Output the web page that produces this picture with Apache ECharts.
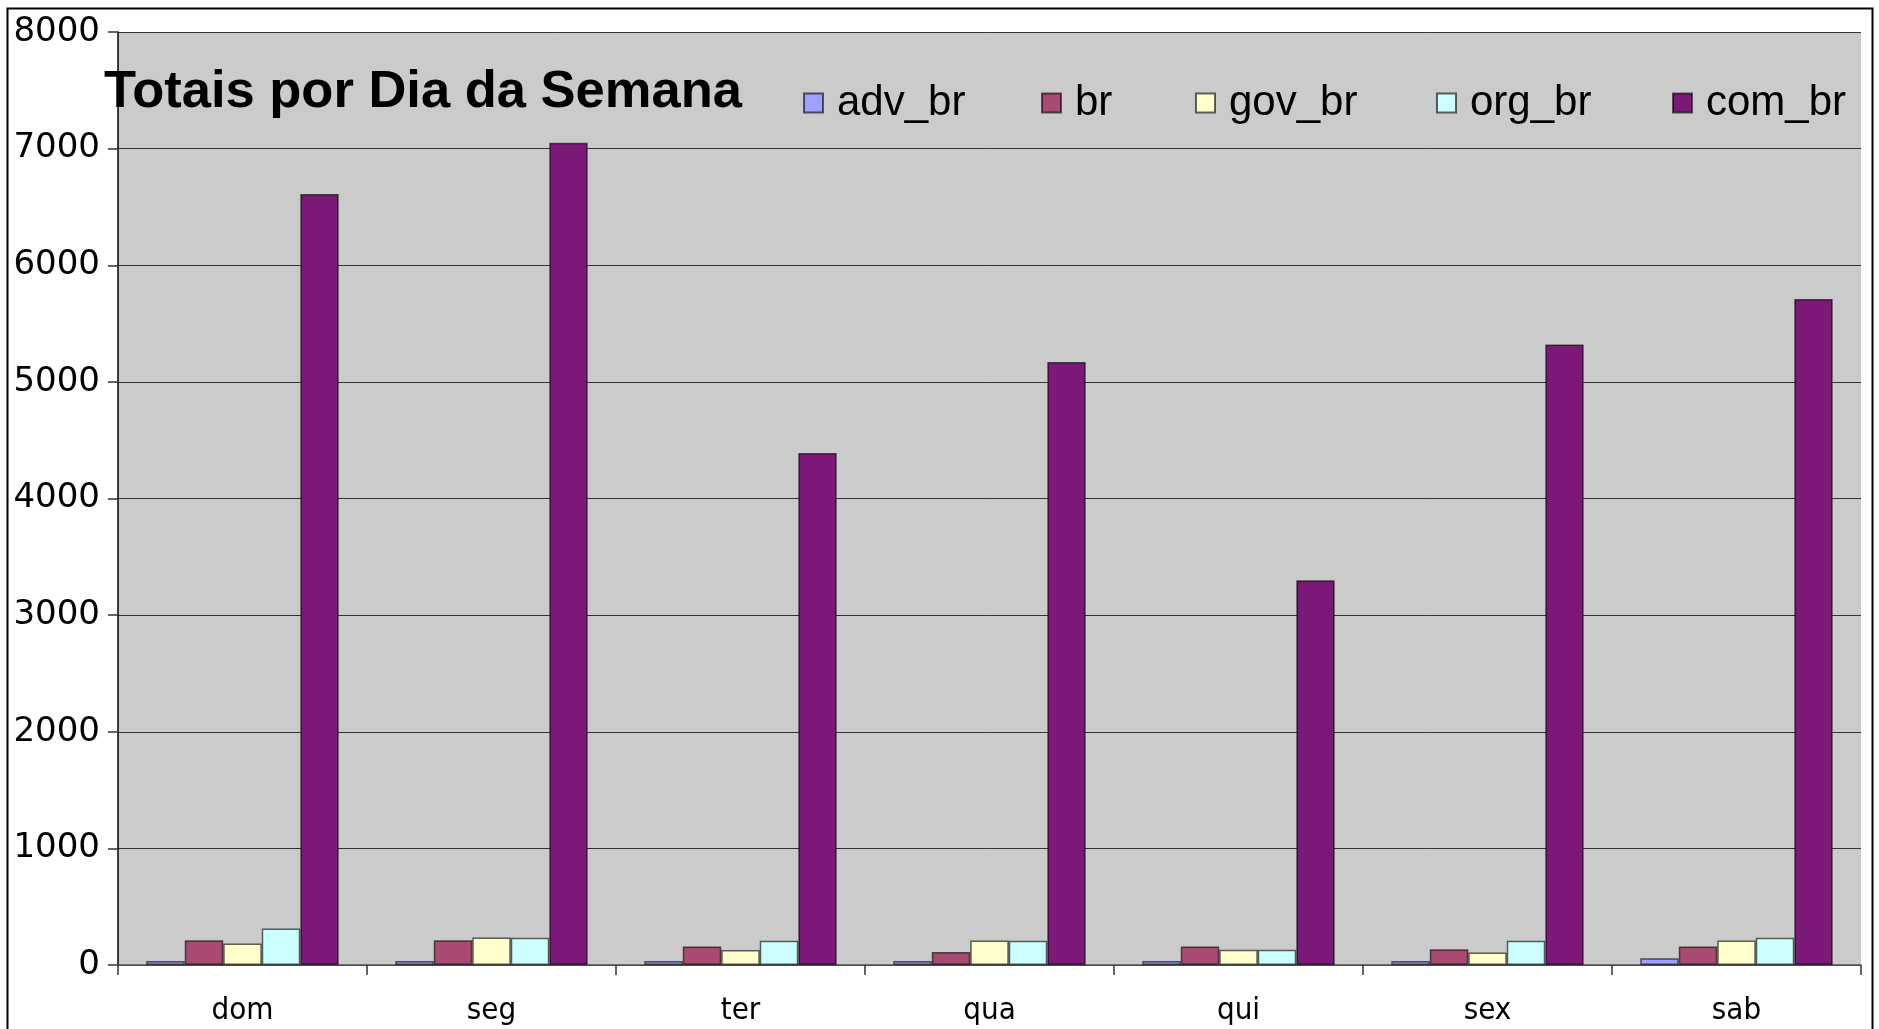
<!DOCTYPE html>
<html>
<head>
<meta charset="utf-8">
<script src="https://cdn.jsdelivr.net/npm/echarts@6/dist/echarts.min.js"></script>
<style>
html,body{margin:0;padding:0;background:#fff;}
#chart{width:1879px;height:1029px;}
</style>
</head>
<body>
<div id="chart"></div>
<script>
const categories = ['dom','seg','ter','qua','qui','sex','sab'];
const seriesNames = ['adv_br','br','gov_br','org_br','com_br'];
const advBr = [34,34,34,34,34,34,57];
const brVals = [213,213,159,111,159,134,159];
const govBr = [185,236,128,210,131,108,210];
const orgBr = [313,233,207,207,131,207,233];
const comBr = [6610,7050,4390,5170,3300,5320,5710];
const yTicks = {min:0, max:8000, interval:1000};
const titleText = 'Totais por Dia da Semana';

const colors = ['#A0A0FF','#A94A72','#FFFFCC','#CCFFFF','#7B1878'];
const values = [advBr, brVals, govBr, orgBr, comBr];
const legendLefts = [803, 1041, 1195, 1436, 1672];

const chart = echarts.init(document.getElementById('chart'));
const option = {
  backgroundColor: '#ffffff',
  animation: false,
  title: {
    text: titleText,
    left: 104,
    top: 66,
    padding: 0,
    textStyle: {fontFamily: 'Liberation Sans', fontWeight: 'bold', fontSize: 52.5, color: '#000', lineHeight: 53}
  },
  legend: seriesNames.map((n, i) => ({
    data: [n],
    left: legendLefts[i],
    top: 82,
    padding: 0,
    itemWidth: 19,
    itemHeight: 19,
    icon: 'rect',
    textStyle: {fontFamily: 'Liberation Sans', fontSize: 42, color: '#000', padding: [0,0,0,9], lineHeight: 42}
  })),
  graphic: [{
    type: 'rect',
    shape: {x: 7.5, y: 8.5, width: 1865, height: 1040},
    style: {fill: 'none', stroke: '#000', lineWidth: 2},
    z: 100
  }],
  grid: {
    left: 118, right: 18, top: 32, bottom: 64,
    show: true, backgroundColor: '#CBCBCB', borderWidth: 0,
    containLabel: false
  },
  xAxis: {
    type: 'category',
    data: categories,
    boundaryGap: true,
    axisLine: {show: true, lineStyle: {color: '#555', width: 1.5}},
    axisTick: {show: true, length: 10, lineStyle: {color: '#333', width: 1.5}},
    axisLabel: {fontFamily: 'DejaVu Sans Condensed', fontSize: 31, color: '#000', margin: 30},
    splitLine: {show: false}
  },
  yAxis: {
    type: 'value',
    min: yTicks.min, max: yTicks.max, interval: yTicks.interval,
    axisLine: {show: true, lineStyle: {color: '#000', width: 1.5}},
    axisTick: {show: true, length: 10, lineStyle: {color: '#333', width: 1.5}},
    axisLabel: {fontFamily: 'DejaVu Sans', fontSize: 34, color: '#000', margin: 18, formatter: v => String(v)},
    splitLine: {show: true, lineStyle: {color: '#333', width: 1}}
  },
  series: seriesNames.map((n, i) => ({
    name: n,
    type: 'bar',
    data: values[i],
    barGap: '0%',
    barCategoryGap: '22.7%',
    itemStyle: {color: colors[i], borderColor: 'rgba(0,0,0,0.6)', borderWidth: 1.5},
    emphasis: {disabled: true}
  }))
};
chart.setOption(option);
</script>
</body>
</html>
